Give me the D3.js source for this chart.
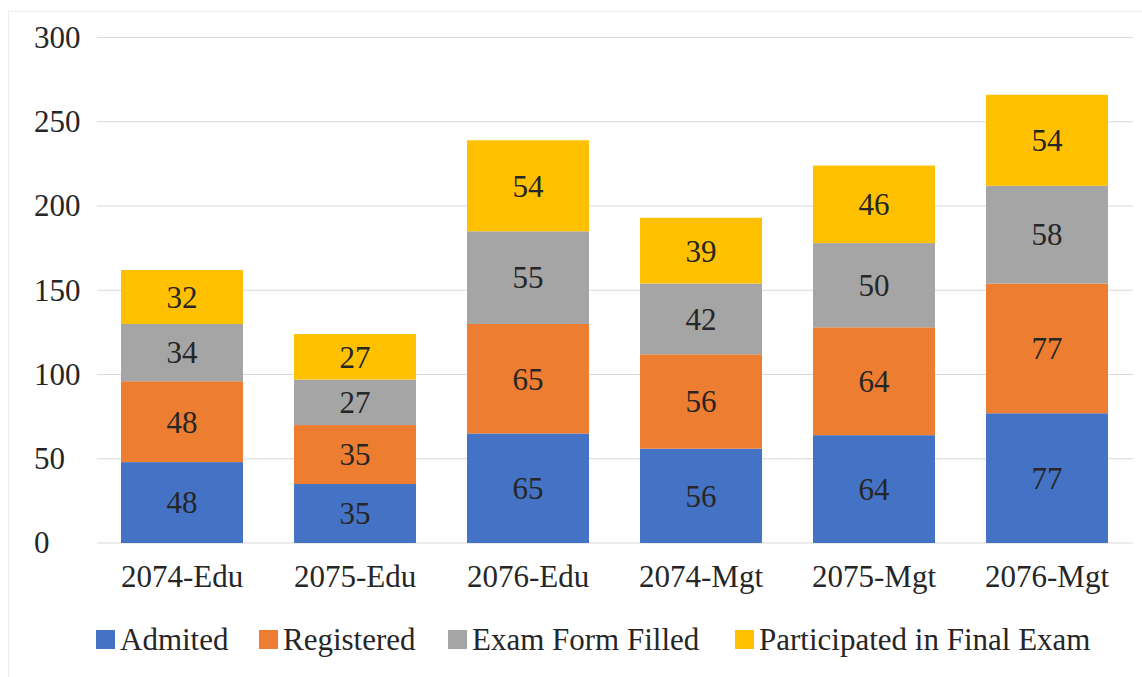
<!DOCTYPE html>
<html>
<head>
<meta charset="utf-8">
<script src="https://cdn.jsdelivr.net/npm/d3@7"></script>
</head>
<body style="margin:0">
<svg id="chart" width="1142" height="677"></svg>
<script>
const categories = ["2074-Edu", "2075-Edu", "2076-Edu", "2074-Mgt", "2075-Mgt", "2076-Mgt"];
const seriesNames = ["Admited", "Registered", "Exam Form Filled", "Participated in Final Exam"];
const admited = [48, 35, 65, 56, 64, 77];
const registered = [48, 35, 65, 56, 64, 77];
const examFormFilled = [34, 27, 55, 42, 50, 58];
const participated = [32, 27, 54, 39, 46, 54];
const yTicks = [0, 50, 100, 150, 200, 250, 300];
const colors = ["#4472C4", "#ED7D31", "#A5A5A5", "#FFC000"];

const FONT = "'Liberation Serif', 'Times New Roman', serif";
const FS = 31;
const TXT = "#262626";

const seriesValues = [admited, registered, examFormFilled, participated];
const keys = ["s0", "s1", "s2", "s3"];
const rows = categories.map((c, i) => {
  const r = { cat: c };
  keys.forEach((k, j) => r[k] = seriesValues[j][i]);
  return r;
});
const stacked = d3.stack().keys(keys)(rows);

const svg = d3.select("#chart").style("display", "block");

function styleText(sel) {
  return sel.style("font-family", FONT, "important")
    .style("font-size", FS + "px")
    .attr("font-family", FONT)
    .attr("font-size", FS)
    .attr("fill", TXT);
}

// faint outer frame
svg.append("rect").attr("x", 8.5).attr("y", 11.5).attr("width", 1150).attr("height", 700)
  .attr("fill", "none").attr("stroke", "#ececec").attr("stroke-width", 1);

const x = d3.scaleBand().domain(categories).range([95.5, 1133.5]).paddingInner(0.295).paddingOuter(0.1475);
const y = d3.scaleLinear().domain([0, 300]).range([543, 37.5]);

// gridlines
svg.append("g").selectAll("line").data(yTicks).join("line")
  .attr("x1", 97).attr("x2", 1133)
  .attr("y1", d => y(d)).attr("y2", d => y(d))
  .attr("stroke", "#d9d9d9").attr("stroke-width", 1.2);

// y tick labels
const yAxis = d3.axisLeft(y).tickValues(yTicks).tickSize(0).tickPadding(0);
const yg = svg.append("g").attr("transform", "translate(34,0)").call(yAxis);
yg.attr("font-family", FONT);
yg.select(".domain").remove();
styleText(yg.selectAll("text").attr("text-anchor", "start").attr("x", 0));

// bars
const layers = svg.append("g").selectAll("g").data(stacked).join("g")
  .attr("fill", (d, i) => colors[i]);
layers.selectAll("rect").data(d => d).join("rect")
  .attr("x", d => x(d.data.cat))
  .attr("width", x.bandwidth())
  .attr("y", d => y(d[1]))
  .attr("height", d => y(d[0]) - y(d[1]));

// data labels
const labels = svg.append("g").selectAll("g").data(stacked).join("g");
styleText(labels.selectAll("text").data(d => d.map(v => ({ v, key: d.key }))).join("text")
  .attr("x", d => x(d.v.data.cat) + x.bandwidth() / 2)
  .attr("y", d => y((d.v[0] + d.v[1]) / 2))
  .attr("dy", "0.35em")
  .attr("text-anchor", "middle")
  .text(d => d.v.data[d.key]));

// x axis labels
const xAxis = d3.axisBottom(x).tickSize(0).tickPadding(0);
const xg = svg.append("g").attr("transform", "translate(0,587)").call(xAxis);
xg.attr("font-family", FONT);
xg.select(".domain").remove();
styleText(xg.selectAll("text").attr("dy", 0).attr("y", 0));

// legend
const legendX = [96, 259, 448, 735];
const lg = svg.append("g").selectAll("g").data(seriesNames).join("g")
  .attr("transform", (d, i) => `translate(${legendX[i]},630)`);
lg.append("rect").attr("width", 19).attr("height", 19).attr("fill", (d, i) => colors[i]);
styleText(lg.append("text").attr("x", 24).attr("y", 20).text(d => d));
</script>
</body>
</html>
